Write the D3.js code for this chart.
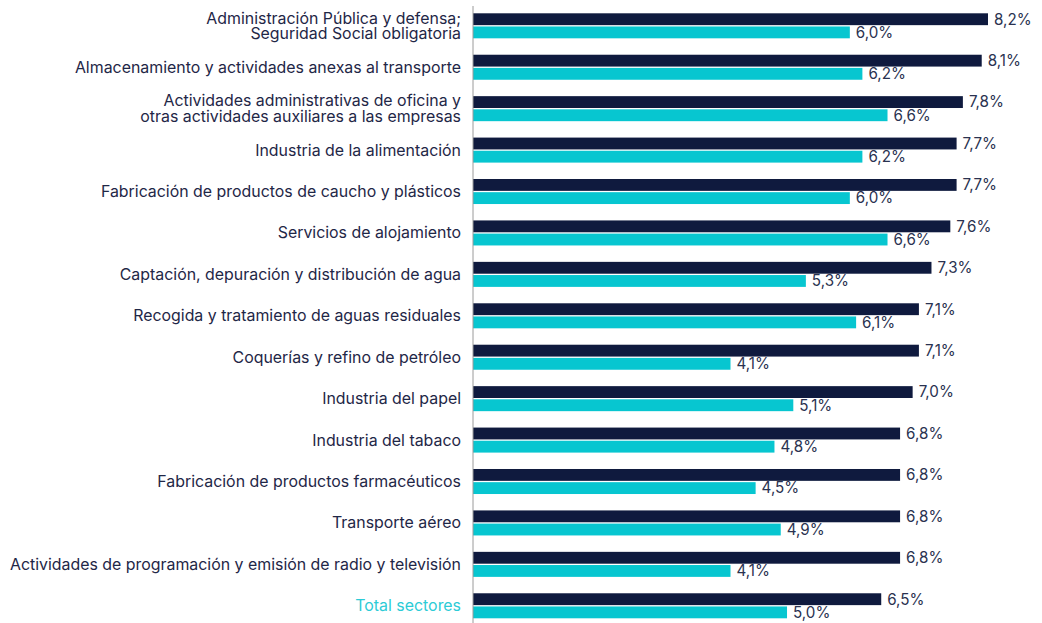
<!DOCTYPE html>
<html>
<head>
<meta charset="utf-8">
<script src="https://cdn.jsdelivr.net/npm/d3@7"></script>
<style>
  body { margin: 0; background: #fff; }
  svg text { font-family: Inter, "Noto Sans", sans-serif; }
</style>
</head>
<body>
<svg id="chart" width="1042" height="623"></svg>
<script>
var categories = [
  "Administración Pública y defensa;|Seguridad Social obligatoria",
  "Almacenamiento y actividades anexas al transporte",
  "Actividades administrativas de oficina y|otras actividades auxiliares a las empresas",
  "Industria de la alimentación",
  "Fabricación de productos de caucho y plásticos",
  "Servicios de alojamiento",
  "Captación, depuración y distribución de agua",
  "Recogida y tratamiento de aguas residuales",
  "Coquerías y refino de petróleo",
  "Industria del papel",
  "Industria del tabaco",
  "Fabricación de productos farmacéuticos",
  "Transporte aéreo",
  "Actividades de programación y emisión de radio y televisión",
  "Total sectores"
]
var seriesA = [8.2, 8.1, 7.8, 7.7, 7.7, 7.6, 7.3, 7.1, 7.1, 7.0, 6.8, 6.8, 6.8, 6.8, 6.5]
var seriesB = [6.0, 6.2, 6.6, 6.2, 6.0, 6.6, 5.3, 6.1, 4.1, 5.1, 4.8, 4.5, 4.9, 4.1, 5.0]
var seriesKeys = ["a", "b"]
var colors = { a: "#0f1a3e", b: "#07c6d0" }

var svg = d3.select("#chart")
var x = d3.scaleLinear().domain([0, 8.2]).range([473, 988])
var y = d3.scaleBand().domain(categories).range([13.3, 618.3]).paddingInner(0.396).paddingOuter(0)
var ySub = d3.scaleBand().domain(seriesKeys).range([0, y.bandwidth()]).paddingInner(0.1)

var rows = categories.map(function(c, i) {
  return { cat: c, a: seriesA[i], b: seriesB[i], total: i === categories.length - 1 }
})

var g = svg.selectAll(".row").data(rows).enter().append("g")
  .attr("class", "row")
  .attr("transform", function(d) { return "translate(0," + y(d.cat) + ")" })

seriesKeys.forEach(function(k) {
  g.append("rect")
    .attr("x", x(0))
    .attr("y", ySub(k))
    .attr("width", function(d) { return x(d[k]) - x(0) })
    .attr("height", ySub.bandwidth())
    .attr("fill", colors[k])

  g.append("text")
    .attr("x", function(d) { return x(d[k]) + 6 })
    .attr("y", ySub(k) + ySub.bandwidth() / 2)
    .attr("dy", "0.35em")
    .attr("font-size", 15.2)
    .attr("fill", "#2a3250")
    .text(function(d) { return d[k].toFixed(1).replace(".", ",") + "%" })
})

// category labels
var labels = g.append("text")
  .attr("text-anchor", "end")
  .attr("font-size", 15.9)
  .attr("fill", function(d) { return d.total ? "#2ccbd6" : "#1f2747" })

labels.each(function(d) {
  var lines = d.cat.split("|")
  var t = d3.select(this)
  var mid = y.bandwidth() / 2
  lines.forEach(function(l, i) {
    t.append("tspan").attr("x", 461)
      .attr("y", mid + (i - (lines.length - 1) / 2) * 15.5)
      .attr("dy", "0.35em").text(l)
  })
})

// axis line
svg.append("line")
  .attr("x1", x(0)).attr("x2", x(0))
  .attr("y1", 6).attr("y2", 623)
  .attr("stroke", "#9a9a9a").attr("stroke-width", 1)
</script>
</body>
</html>
